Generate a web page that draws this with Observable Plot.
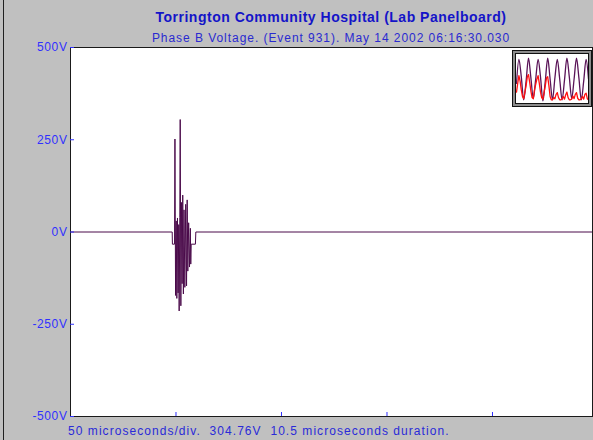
<!DOCTYPE html>
<html><head><meta charset="utf-8">
<script src="https://cdn.jsdelivr.net/npm/d3@7"></script>
<script src="https://cdn.jsdelivr.net/npm/@observablehq/plot@0.6"></script>
<style>
html,body{margin:0;padding:0;background:#c0c0c0;}
#wrap{position:relative;width:593px;height:440px;background:#c0c0c0;overflow:hidden;font-family:"Liberation Sans",Arial,sans-serif;}
#edge{position:absolute;left:3px;top:0;width:1px;height:440px;background:#202020;}
#title{position:absolute;left:70px;width:522px;top:9px;text-align:center;font-weight:bold;font-size:14px;letter-spacing:0.5px;color:#1414c8;line-height:17px;}
#subtitle{position:absolute;left:70px;width:522px;top:31px;text-align:center;font-size:12px;letter-spacing:0.95px;color:#2a2ad0;line-height:14px;}
#chart{position:absolute;left:0;top:40px;}
#caption{position:absolute;left:68px;top:424px;font-size:12px;letter-spacing:1.05px;color:#2a2ad8;white-space:pre;line-height:14px;}
#inset{position:absolute;left:512px;top:50px;border:1px solid #111;padding:2px;background:#8c8c8c;}
#inset svg{display:block;border:1px solid #111;background:#fff;}
</style></head>
<body>
<div id="wrap">
  <div id="edge"></div>
  <div id="title">Torrington Community Hospital (Lab Panelboard)</div>
  <div id="subtitle">Phase B Voltage. (Event 931). May 14 2002 06:16:30.030</div>
  <div id="chart"></div>
  <div id="caption">50 microseconds/div.  304.76V  10.5 microseconds duration.</div>
  <div id="inset"></div>
</div>
<script>
// Main waveform: time (microseconds) and voltage (V)
const timeUs = [0, 48.2, 48.3, 49.3, 49.5, 49.8, 50.1, 50.4, 50.7, 51.0, 51.3, 51.5, 51.8, 52.0, 52.3, 52.6, 52.9, 53.2, 53.5, 53.8, 54.2, 54.6, 55.0, 55.3, 55.6, 56.0, 56.4, 56.8, 57.0, 57.2, 59.2, 59.4, 247.4];
const voltage = [0, 0, -33, -33, 252, -172, 30, -180, 38, -165, 20, -214, 40, 304.76, -200, 80, -140, 100, -168, 60, -150, 75, -146, 87, -106, 25, -95, 10, -87, -33, -33, 0, 0];
const yTicks = [-500, -250, 0, 250, 500];
const xTicks = [50, 100, 150, 200];
const xDomain = [0, 247.4];
const yDomain = [-500, 500];

// Thumbnail inset: sample index and normalized values
const insetPurple = [-0.2, 0.9, 0.1, -0.95, -0.1, 0.95, 0.05, -0.9, 0, 0.9, 0.1, -1, -0.1, 0.95, 0, -0.95, 0.05, 0.9, 0, -0.95, -0.05, 0.95, 0.1, -0.9, 0, 0.95, 0.05, -0.95, -0.1, 0.9, 0];
const insetRed = [-0.6, -0.2, 0.15, -0.1, -0.5, -0.8, -0.9, -0.6,
  -0.3, 0.1, 0.2, -0.15, -0.55, -0.85, -0.9, -0.5,
  -0.25, 0.0, 0.15, -0.2, -0.6, -0.85, -0.92, -0.6,
  -0.3, 0.05, 0.1, -0.3, -0.8, -0.95, -0.95, -0.85,
  -0.9, -0.7, -0.62, -0.85, -0.95, -0.95, -0.9, -0.8,
  -0.92, -0.72, -0.6, -0.85, -0.95, -0.95, -0.92, -0.78,
  -0.9, -0.7, -0.62, -0.88, -0.95, -0.95, -0.9, -0.8,
  -0.92, -0.7, -0.65, -0.9, -0.95];

const points = timeUs.map((t, i) => ({t, v: voltage[i]}));
const labelBlue = "#3030ff";

const chart = Plot.plot({
  width: 593, height: 400,
  marginLeft: 70, marginRight: 1, marginTop: 7, marginBottom: 24,
  style: {background: "transparent", fontFamily: "Liberation Sans, Arial, sans-serif", fontSize: "12px", letterSpacing: "0.6px", color: labelBlue, overflow: "visible"},
  x: {domain: xDomain, label: null},
  y: {domain: yDomain, label: null},
  marks: [
    Plot.frame({fill: "white", stroke: null}),
    Plot.line(points, {x: "t", y: "v", stroke: "#4a0a4a", strokeWidth: 1}),
    Plot.frame({stroke: "#1a1a1a"}),
    Plot.axisY(yTicks, {tickSize: 0, tickPadding: 3, tickFormat: d => d + "V", fill: labelBlue}),
    Plot.axisY(yTicks, {tickSize: 4, dx: 4, tickFormat: () => "", stroke: labelBlue}),
    Plot.axisX(xTicks, {tickSize: 4, dy: -4, tickFormat: () => "", stroke: labelBlue})
  ]
});
document.getElementById("chart").appendChild(chart);

const purplePts = insetPurple.map((v, i) => ({i: i, v}));
const redPts = insetRed.map((v, i) => ({i: i / 2, v}));
const inset = Plot.plot({
  width: 72, height: 49, margin: 0,
  style: {background: "white"},
  x: {axis: null, domain: [0, 30]},
  y: {axis: null, domain: [-1.12, 1.12]},
  marks: [
    Plot.line(purplePts, {x: "i", y: "v", stroke: "#5a1458", strokeWidth: 1.3, curve: "monotone-x"}),
    Plot.line(redPts, {x: "i", y: "v", stroke: "#ff1010", strokeWidth: 1.3})
  ]
});
document.getElementById("inset").appendChild(inset);
</script>
</body></html>
